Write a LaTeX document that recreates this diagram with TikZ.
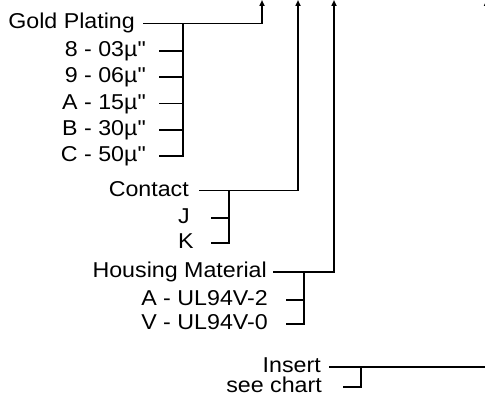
\documentclass[tikz,border=0pt]{standalone}
\usepackage{fontspec}
\setmainfont{Liberation Sans}[FakeStretch=1.08, Ligatures=TeXOff]
\usetikzlibrary{arrows.meta}

\begin{document}
\begin{tikzpicture}[x=1pt,y=-1pt,
    lbl/.style={inner sep=0pt, anchor=east, font=\fontsize{21.5}{24}\selectfont,
      text height=12pt, text depth=1pt},
    lead/.style={line width=1.7pt},
    feed/.style={lead, -{Triangle[length=6pt,width=5pt]}}]
    \useasboundingbox (0,0) rectangle (485,396);
    \clip (0,0) rectangle (485,396);

    \coordinate (pGold) at (262,0);
    \coordinate (pCont) at (298,0);
    \coordinate (pHous) at (334,0);
    \coordinate (pIns) at (486.5,0);

    \node[lbl] (gold) at (135,23.5) {Gold Plating};
    \foreach \t [count=\i] in {8 - 03µ", 9 - 06µ", A - 15µ", B - 30µ", C - 50µ"}
      \node[lbl] (g\i) at (146,{24.8+26.25*\i}) {\t};
    \coordinate (sGold) at (183,23.5);
    \coordinate (tGold) at (159,0);
    \draw[feed] ([xshift=8pt]gold.east) -| (pGold);
    \draw[lead] (sGold) |- (g5.east -| tGold);
    \foreach \i in {1,...,4}
      \draw[lead] (g\i.east -| tGold) -- (g\i.east -| sGold);

    \node[lbl] (cont) at (189,190.5) {Contact};
    \node[lbl, anchor=west] (j) at (178,218) {J};
    \node[lbl, anchor=west] (k) at (178,243) {K};
    \coordinate (sCont) at (229,190.5);
    \coordinate (tCont) at (211,0);
    \draw[feed] ([xshift=10pt]cont.east) -| (pCont);
    \draw[lead] (sCont) |- (k.east -| tCont);
    \draw[lead] (j.east -| tCont) -- (j.east -| sCont);

    \node[lbl] (hous) at (267,272) {Housing Material};
    \node[lbl] (ul2) at (268,300) {A - UL94V-2};
    \node[lbl] (ul0) at (268,324) {V - UL94V-0};
    \coordinate (sHous) at (304,272);
    \coordinate (tHous) at (286,0);
    \draw[feed] ([xshift=6pt]hous.east) -| (pHous);
    \draw[lead] (sHous) |- (ul0.east -| tHous);
    \draw[lead] (ul2.east -| tHous) -- (ul2.east -| sHous);

    \node[lbl] (ins) at (321,367) {Insert};
    \node[lbl] (chart) at (322,387) {see chart};
    \coordinate (sIns) at (361,367);
    \coordinate (tIns) at (343,0);
    \draw[feed] ([xshift=8pt]ins.east) -| (pIns);
    \draw[lead] (sIns) |- (chart.east -| tIns);
\end{tikzpicture}
\end{document}
